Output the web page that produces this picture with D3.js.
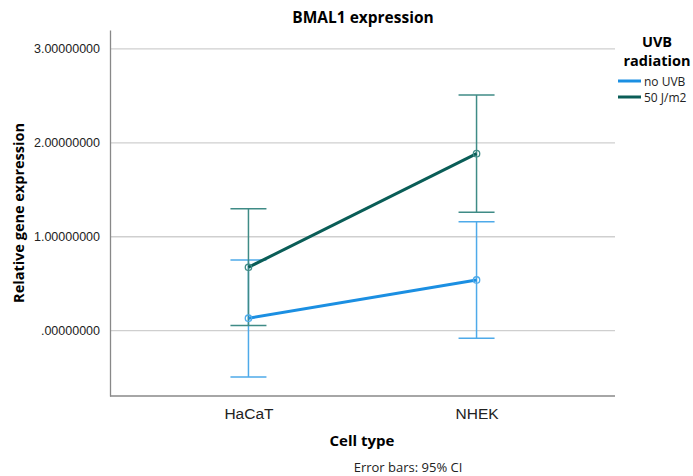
<!DOCTYPE html>
<html>
<head>
<meta charset="utf-8">
<style>
  body { margin: 0; background: #fff; }
  svg { font-family: "Open Sans", "DejaVu Sans", sans-serif; }
  .grid line { stroke: #cfcfcf; stroke-width: 1.3; }
  .tick text { fill: #222; }
</style>
</head>
<body>
<div id="chart"></div>
<script src="https://d3js.org/d3.v7.min.js"></script>
<script>
// categories and series
const cellTypes = ['HaCaT', 'NHEK'];
const seriesNames = ['no UVB', '50 J/m2'];
const noUvbMean = [0.128, 0.535];
const noUvbLow = [-0.497, -0.085];
const noUvbHigh = [0.748, 1.155];
const uvbMean = [0.670, 1.879];
const uvbLow = [0.049, 1.255];
const uvbHigh = [1.294, 2.503];
const yTicks = [0, 1, 2, 3];

const width = 693;
const height = 476;
const margin = { top: 30, right: 78, bottom: 80, left: 110 };

const series = [
  { name: seriesNames[0], mean: noUvbMean, low: noUvbLow, high: noUvbHigh, line: '#1b8fe2', bar: '#4eaae9' },
  { name: seriesNames[1], mean: uvbMean, low: uvbLow, high: uvbHigh, line: '#0a5d57', bar: '#3f8b86' }
];

const svg = d3.select('#chart')
  .append('svg')
  .attr('width', width)
  .attr('height', height);

const x = d3.scalePoint()
  .domain(cellTypes)
  .range([margin.left, width - margin.right])
  .padding(0.607);

const y = d3.scaleLinear()
  .domain([-0.70, 3.195])
  .range([height - margin.bottom, margin.top]);

// gridlines
svg.append('g')
  .attr('class', 'grid')
  .attr('transform', `translate(${margin.left},0)`)
  .call(d3.axisLeft(y).tickValues(yTicks).tickSize(-(width - margin.right - margin.left)).tickFormat(''))
  .call(g => g.select('.domain').remove());

// y axis
const fmt = v => v === 0 ? '.00000000' : v.toFixed(8);
svg.append('g')
  .attr('transform', `translate(${margin.left},0)`)
  .call(d3.axisLeft(y).tickValues(yTicks).tickSize(0).tickPadding(10).tickFormat(fmt))
  .call(g => g.select('.domain').attr('stroke', '#888').attr('stroke-width', 1.3))
  .call(g => g.selectAll('text').attr('font-size', 12.5).attr('fill', '#222'));

// x axis
svg.append('g')
  .attr('transform', `translate(0,${height - margin.bottom})`)
  .call(d3.axisBottom(x).tickSize(0).tickPadding(12))
  .call(g => g.select('.domain').attr('stroke', '#888').attr('stroke-width', 1.3).attr('d', `M${margin.left},0H${width - margin.right}`))
  .call(g => g.selectAll('text').attr('font-size', 15.5).attr('fill', '#222'));

// error bars
const cap = 18;
series.forEach(s => {
  const g = svg.append('g').attr('stroke', s.bar).attr('stroke-width', 1.5);
  cellTypes.forEach((c, i) => {
    g.append('line').attr('x1', x(c)).attr('x2', x(c)).attr('y1', y(s.low[i])).attr('y2', y(s.high[i]));
    g.append('line').attr('x1', x(c) - cap).attr('x2', x(c) + cap).attr('y1', y(s.low[i])).attr('y2', y(s.low[i]));
    g.append('line').attr('x1', x(c) - cap).attr('x2', x(c) + cap).attr('y1', y(s.high[i])).attr('y2', y(s.high[i]));
  });
});

// lines and markers
const line = d3.line()
  .x((d, i) => x(cellTypes[i]))
  .y(d => y(d));

series.forEach(s => {
  svg.append('path')
    .datum(s.mean)
    .attr('fill', 'none')
    .attr('stroke', s.line)
    .attr('stroke-width', 3)
    .attr('d', line);
  svg.selectAll(null)
    .data(s.mean)
    .enter()
    .append('circle')
    .attr('cx', (d, i) => x(cellTypes[i]))
    .attr('cy', d => y(d))
    .attr('r', 3.2)
    .attr('fill', 'none')
    .attr('stroke', s.bar)
    .attr('stroke-width', 1.3);
});

// title
svg.append('text')
  .attr('x', 363)
  .attr('y', 23)
  .attr('text-anchor', 'middle')
  .attr('font-size', 15.5)
  .attr('font-weight', 'bold')
  .text('BMAL1 expression');

// axis titles
svg.append('text')
  .attr('transform', `translate(24,${(margin.top + height - margin.bottom) / 2}) rotate(-90)`)
  .attr('text-anchor', 'middle')
  .attr('font-size', 14.5)
  .attr('font-weight', 'bold')
  .text('Relative gene expression');

svg.append('text')
  .attr('x', 362)
  .attr('y', 446)
  .attr('text-anchor', 'middle')
  .attr('font-size', 15)
  .attr('font-weight', 'bold')
  .text('Cell type');

svg.append('text')
  .attr('x', 408)
  .attr('y', 472)
  .attr('text-anchor', 'middle')
  .attr('font-size', 13)
  .attr('fill', '#222')
  .text('Error bars: 95% CI');

// legend
const legend = svg.append('g');
legend.append('text')
  .attr('x', 657).attr('y', 47)
  .attr('text-anchor', 'middle')
  .attr('font-size', 14.5).attr('font-weight', 'bold')
  .text('UVB');
legend.append('text')
  .attr('x', 657).attr('y', 66)
  .attr('text-anchor', 'middle')
  .attr('font-size', 14.5).attr('font-weight', 'bold')
  .text('radiation');

series.forEach((s, i) => {
  const ly = 81 + i * 16;
  legend.append('line')
    .attr('x1', 618).attr('x2', 641)
    .attr('y1', ly).attr('y2', ly)
    .attr('stroke', s.line).attr('stroke-width', 3);
  legend.append('text')
    .attr('x', 644).attr('y', ly + 4.5)
    .attr('font-size', 12)
    .attr('fill', '#222')
    .text(s.name);
});
</script>
</body>
</html>
